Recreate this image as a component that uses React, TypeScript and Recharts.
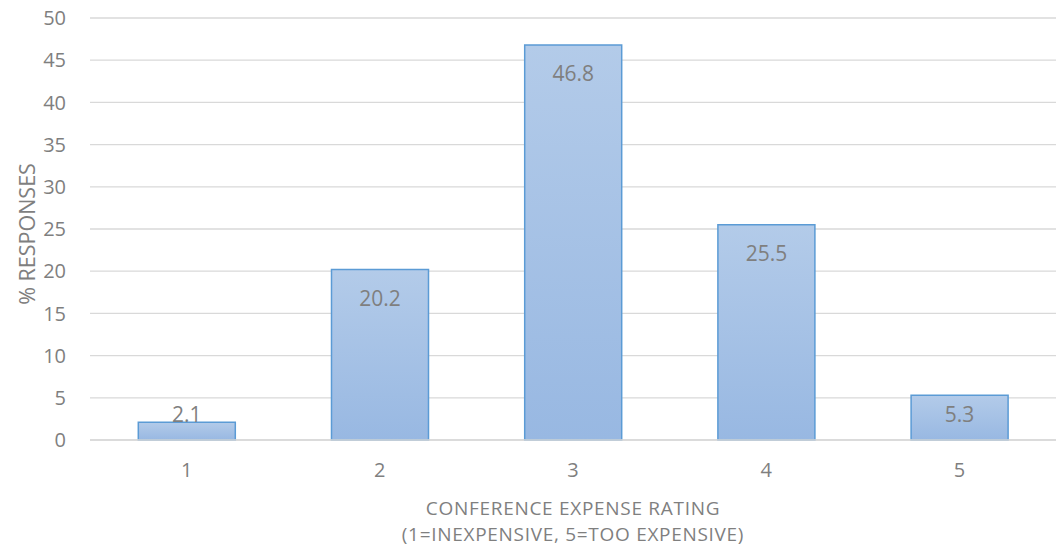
import React from 'react';
import { BarChart, Bar, XAxis, YAxis, CartesianGrid, LabelList } from 'recharts';

const categories = ['1', '2', '3', '4', '5'];
const responses = [2.1, 20.2, 46.8, 25.5, 5.3];
const yTicks = [0, 5, 10, 15, 20, 25, 30, 35, 40, 45, 50];
const xTitle1 = 'CONFERENCE EXPENSE RATING';
const xTitle2 = '(1=INEXPENSIVE, 5=TOO EXPENSIVE)';
const yTitle = '% RESPONSES';

const data = categories.map((c, i) => ({ name: c, value: responses[i] }));

const FONT = '"Open Sans", sans-serif';
const TEXT = '#7f7f7f';

const BarLabel = (props: any) => {
  const { x, y, width, height, value } = props;
  const bottom = y + height;
  const cy = Math.min(y + 28, bottom - 26);
  return (
    <text
      x={x + width / 2}
      y={cy}
      textAnchor="middle"
      dominantBaseline="central"
      fill={TEXT}
      fontFamily={FONT}
      fontSize={21}
    >
      {value}
    </text>
  );
};

const XTitle = (props: any) => {
  const { viewBox } = props;
  const cx = viewBox.x + viewBox.width / 2;
  return (
    <g>
      <text x={cx} y={viewBox.y + 68} textAnchor="middle" dominantBaseline="central" fill={TEXT} fontFamily={FONT} fontSize={19} letterSpacing={0.7}>
        {xTitle1}
      </text>
      <text x={cx} y={viewBox.y + 94} textAnchor="middle" dominantBaseline="central" fill={TEXT} fontFamily={FONT} fontSize={19} letterSpacing={0.7}>
        {xTitle2}
      </text>
    </g>
  );
};

const YTitle = () => {
  const cy = 234;
  const cx = 26;
  return (
    <text
      x={cx}
      y={cy}
      transform={`rotate(-90, ${cx}, ${cy})`}
      textAnchor="middle"
      dominantBaseline="central"
      fill={TEXT}
      fontFamily={FONT}
      fontSize={21.5}
    >
      {yTitle}
    </text>
  );
};

export default function App() {
  return (
    <div style={{ position: 'absolute', left: 0, top: 0, background: '#fff' }}>
      <BarChart
        width={1056}
        height={552}
        data={data}
        margin={{ top: 18, right: 0, left: 0, bottom: 0 }}
        barCategoryGap="25%"
      >
        <defs>
          <linearGradient id="barFill" x1="0" y1="0" x2="0" y2="1">
            <stop offset="0%" stopColor="#b3cbe9" />
            <stop offset="100%" stopColor="#98b8e2" />
          </linearGradient>
        </defs>
        <CartesianGrid vertical={false} stroke="#d9d9d9" strokeWidth={1.3} />
        <XAxis
          dataKey="name"
          height={112}
          axisLine={{ stroke: '#d9d9d9', strokeWidth: 1.3 }}
          tickLine={false}
          tickMargin={17}
          tick={{ fill: TEXT, fontFamily: FONT, fontSize: 20 }}
          label={<XTitle />}
        />
        <YAxis
          width={90}
          domain={[0, 50]}
          ticks={yTicks}
          axisLine={false}
          tickLine={false}
          tickMargin={18}
          tick={{ fill: TEXT, fontFamily: FONT, fontSize: 20 }}
          label={<YTitle />}
        />
        <Bar dataKey="value" fill="url(#barFill)" stroke="#5b9bd5" strokeWidth={1.5} isAnimationActive={false}>
          <LabelList dataKey="value" content={<BarLabel />} />
        </Bar>
      </BarChart>
    </div>
  );
}
